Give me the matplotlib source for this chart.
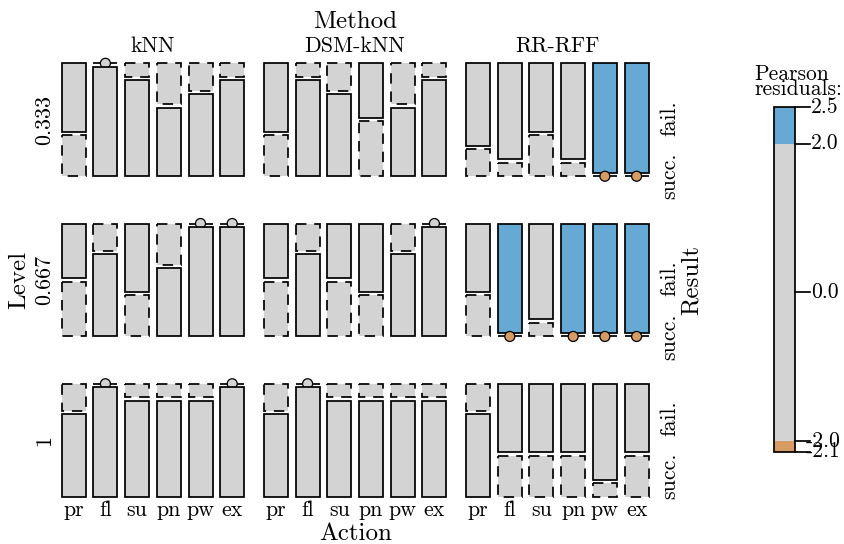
import numpy as np
import matplotlib
matplotlib.use("Agg")
import matplotlib.pyplot as plt
from matplotlib.patches import Rectangle, Circle

# ---------------- data ----------------
levels = ["0.333", "0.667", "1"]
methods = ["kNN", "DSM-kNN", "RR-RFF"]
actions = ["pr", "fl", "su", "pn", "pw", "ex"]
results = ["fail.", "succ."]

# number of failures per (method, action) cell, one list per level
fail_0333 = [5, 0, 1, 3, 2, 1,   5, 1, 2, 4, 3, 1,   6, 7, 5, 7, 8, 8]
fail_0667 = [4, 2, 5, 3, 0, 0,   4, 2, 4, 5, 2, 0,   5, 8, 7, 8, 8, 8]
fail_1    = [2, 0, 1, 1, 1, 0,   2, 0, 1, 1, 1, 1,   2, 5, 5, 5, 7, 5]
# number of successes per cell
succ_0333 = [3, 8, 7, 5, 6, 7,   3, 7, 6, 4, 5, 7,   2, 1, 3, 1, 0, 0]
succ_0667 = [4, 6, 3, 5, 8, 8,   4, 6, 4, 3, 6, 8,   3, 0, 1, 0, 0, 0]
succ_1    = [6, 8, 7, 7, 7, 8,   6, 8, 7, 7, 7, 7,   6, 3, 3, 3, 1, 3]

fails = np.array([fail_0333, fail_0667, fail_1], float).reshape(3, 3, 6)
succs = np.array([succ_0333, succ_0667, succ_1], float).reshape(3, 3, 6)
counts = np.stack([fails, succs], axis=-1)  # level, method, action, result

# ---------------- residuals (mutual independence) ----------------
N = counts.sum()
pL = counts.sum(axis=(1, 2, 3)) / N
pM = counts.sum(axis=(0, 2, 3)) / N
pA = counts.sum(axis=(0, 1, 3)) / N
pR = counts.sum(axis=(0, 1, 2)) / N
expected = N * pL[:, None, None, None] * pM[None, :, None, None] * \
    pA[None, None, :, None] * pR[None, None, None, :]
resid = (counts - expected) / np.sqrt(expected)
rmax, rmin = resid.max(), resid.min()

# ---------------- style ----------------
plt.rcParams["font.family"] = "cmr10"
plt.rcParams["mathtext.fontset"] = "cm"
plt.rcParams["axes.unicode_minus"] = False
FS = 15.8      # level labels
FS_VAR = 18.0  # variable names
FS_LEG = 15.5
BLUE = "#66A9D5"
ORANGE = "#D79C63"
GRAY = "#D3D3D3"
LW = 1.25
DASH = (0, (6, 4.5))

def fill_for(r):
    if r > 2:
        return BLUE
    if r < -2:
        return ORANGE
    return GRAY

fig = plt.figure(figsize=(8.44, 5.44), dpi=100)
ax = fig.add_axes([0, 0, 1, 1])
ax.set_xlim(0, 844)
ax.set_ylim(544, 0)
ax.axis("off")

# layout frame (pixels)
X0, X1 = 61.7, 648.6
Y0, Y1 = 63.3, 496.7
GAP_LEVEL = 47.3
GAP_METHOD = 19.7
GAP_ACTION = 7.7
GAP_RESULT = 3.3
R_CIRC = 5.0

nL, nM, nA = len(levels), len(methods), len(actions)
avail_h = (Y1 - Y0) - (nL - 1) * GAP_LEVEL
avail_w = (X1 - X0) - (nM - 1) * GAP_METHOD - nM * (nA - 1) * GAP_ACTION

col_lefts = None
y = Y0
for li in range(nL):
    rh = avail_h * pL[li]
    tot_level = counts[li].sum()
    x = X0
    lefts = []
    for mi in range(nM):
        for ai in range(nA):
            cw = avail_w * counts[li, mi, ai].sum() / tot_level
            lefts.append((x, cw))
            cell = counts[li, mi, ai]
            inner = rh - GAP_RESULT
            yy = y
            for ri in range(2):
                h = inner * cell[ri] / cell.sum()
                r = resid[li, mi, ai, ri]
                col = fill_for(r)
                ls = "-" if r >= 0 else DASH
                z = 2 + ri
                if h > 0:
                    ax.add_patch(Rectangle((x, yy), cw, h, facecolor=col,
                                           edgecolor="black", lw=LW,
                                           linestyle=ls, zorder=z))
                else:
                    ax.plot([x, x + cw], [yy, yy], color="black", lw=LW,
                            zorder=z, solid_capstyle="butt")
                    ax.add_patch(Circle((x + cw / 2, yy), R_CIRC,
                                        facecolor=col, edgecolor="black",
                                        lw=0.9, zorder=z))
                # right-hand result labels next to last column
                if mi == nM - 1 and ai == nA - 1:
                    ax.text(675, yy + h / 2, results[ri], rotation=90,
                            rotation_mode="anchor", ha="center",
                            va="baseline", fontsize=FS)
                yy += h + GAP_RESULT
            x += cw + (GAP_ACTION if ai < nA - 1 else GAP_METHOD)
    if col_lefts is None:
        col_lefts = lefts
    # level label
    ax.text(50, y + rh / 2, levels[li], rotation=90, rotation_mode="anchor",
            ha="center", va="baseline", fontsize=FS)
    y += rh + GAP_LEVEL

# method labels and action labels
for mi in range(nM):
    l0 = col_lefts[mi * nA][0]
    last = col_lefts[mi * nA + nA - 1]
    ax.text((l0 + last[0] + last[1]) / 2, 51.5, methods[mi], ha="center",
            va="baseline", fontsize=FS)
    for ai in range(nA):
        lx, cw = col_lefts[mi * nA + ai]
        ax.text(lx + cw / 2, 516.5, actions[ai], ha="center", va="baseline",
                fontsize=FS)

ax.text((X0 + X1) / 2, 28.5, "Method", ha="center", va="baseline",
        fontsize=FS_VAR)
ax.text((X0 + X1) / 2, 539.5, "Action", ha="center", va="baseline",
        fontsize=FS_VAR)
ax.text(25, (Y0 + Y1) / 2, "Level", rotation=90, rotation_mode="anchor",
        ha="center", va="baseline", fontsize=FS_VAR)
ax.text(698, (Y0 + Y1) / 2, "Result", rotation=90, rotation_mode="anchor",
        ha="center", va="baseline", fontsize=FS_VAR)

# ---------------- legend ----------------
LX0, LX1 = 773.5, 795.0
LY0, LY1 = 107.3, 451.5

def ly(v):
    return LY0 + (rmax - v) / (rmax - rmin) * (LY1 - LY0)

bands = [(rmax, 2.0, BLUE), (2.0, -2.0, GRAY), (-2.0, rmin, ORANGE)]
for top, bot, c in bands:
    ax.add_patch(Rectangle((LX0, ly(top)), LX1 - LX0, ly(bot) - ly(top),
                           facecolor=c, edgecolor="none", zorder=2))
ax.add_patch(Rectangle((LX0, LY0), LX1 - LX0, LY1 - LY0, facecolor="none",
                       edgecolor="black", lw=LW, zorder=3))
for v in [rmax, 2.0, 0.0, -2.0, rmin]:
    yv = ly(v)
    ax.plot([LX1, LX1 + 15], [yv, yv], color="black", lw=LW, zorder=3)
    lab = f"{v:.1f}"
    if lab.startswith("-"):
        ax.text(LX1 + 11, yv, lab, ha="left", va="center", fontsize=FS_LEG)
    else:
        ax.text(LX1 + 16, yv, lab, ha="left", va="center", fontsize=FS_LEG)
ax.text(754, 80, "Pearson", ha="left", va="baseline", fontsize=FS_LEG)
ax.text(754, 95, "residuals:", ha="left", va="baseline", fontsize=FS_LEG)

fig.savefig("out.png", dpi=100)
